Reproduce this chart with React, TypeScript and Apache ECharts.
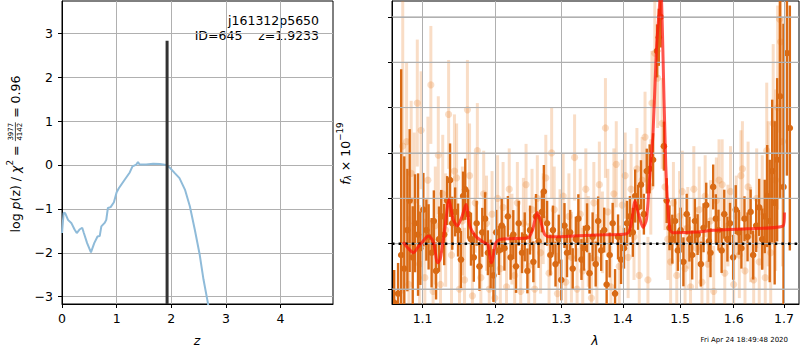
import React, { useEffect, useRef } from 'react';
import * as echarts from 'echarts';

// ---------- Left panel: log p(z) ----------
const pzZ = [0, 0.03, 0.06, 0.11, 0.17, 0.23, 0.27, 0.32, 0.37, 0.40, 0.46, 0.53, 0.59, 0.65, 0.69, 0.72, 0.78, 0.81, 0.84, 0.89, 0.95, 1.0, 1.04, 1.15, 1.24, 1.29, 1.36, 1.39, 1.42, 1.54, 1.67, 1.79, 1.91, 1.98, 2.06, 2.15, 2.25, 2.34, 2.43, 2.52, 2.59, 2.67, 2.75, 2.85];
const pzLogP = [-1.55, -1.09, -1.1, -1.25, -1.32, -1.47, -1.55, -1.47, -1.43, -1.55, -1.78, -1.99, -1.78, -1.63, -1.62, -1.40, -1.32, -1.25, -0.98, -0.96, -0.85, -0.62, -0.53, -0.33, -0.17, -0.03, 0.01, 0.07, 0.01, 0.01, 0.03, 0.02, 0.0, -0.07, -0.18, -0.30, -0.56, -0.94, -1.47, -2.04, -2.61, -3.14, -3.8, -4.6];
const zBest = 1.9233;
const zBarTop = 2.83;
const zTicks = [0, 1, 2, 3, 4];
const logpTicks = [-3, -2, -1, 0, 1, 2, 3];
const objName = 'j161312p5650';
const objInfo = 'ID=645    z=1.9233';
const dateText = 'Fri Apr 24 18:49:48 2020';

// ---------- Right panel: spectrum ----------
const lamTicks = [1.1, 1.2, 1.3, 1.4, 1.5, 1.6, 1.7];
const fluxTicks = [-2, 0, 2, 4, 6, 8, 10];

const modelLam = [1.0744, 1.081, 1.088, 1.094, 1.099, 1.104, 1.108, 1.1147, 1.120, 1.1236, 1.1303, 1.1356, 1.1413, 1.147, 1.1537, 1.159, 1.1643, 1.1723, 1.1834, 1.190, 1.1946, 1.1968, 1.2014, 1.208, 1.2222, 1.2491, 1.256, 1.2627, 1.2673, 1.2742, 1.282, 1.298, 1.357, 1.4068, 1.4136, 1.4209, 1.426, 1.4346, 1.4405, 1.4462, 1.452, 1.4578, 1.4625, 1.4655, 1.4685, 1.4744, 1.4815, 1.4874, 1.530, 1.561, 1.625, 1.6985, 1.701];
const modelFlux = [0.07, -0.2, -0.40, -0.15, 0.04, 0.25, 0.34, 0.04, -0.84, -0.69, 0.78, 1.95, 1.07, 0.78, 1.22, 1.73, 0.78, 0.34, 0.07, -0.03, -0.84, -0.69, 0.04, 0.19, 0.22, 0.26, 0.63, 1.37, 1.07, 0.41, 0.30, 0.31, 0.38, 0.44, 0.78, 1.88, 1.37, 0.71, 1.07, 2.98, 4.9, 8.57, 10.2, 11.3, 9.3, 3.42, 0.63, 0.48, 0.51, 0.59, 0.66, 0.79, 1.37];

const darkLam = [1.063, 1.068, 1.072, 1.076, 1.080, 1.083, 1.087, 1.090, 1.094, 1.097, 1.101, 1.105, 1.108, 1.112, 1.115, 1.118, 1.122, 1.125, 1.129, 1.133, 1.137, 1.140, 1.144, 1.148, 1.152, 1.155, 1.158, 1.162, 1.166, 1.170, 1.174, 1.178, 1.182, 1.186, 1.190, 1.194, 1.198, 1.202, 1.206, 1.210, 1.214, 1.219, 1.223, 1.227, 1.231, 1.235, 1.240, 1.244, 1.248, 1.252, 1.257, 1.261, 1.265, 1.270, 1.273, 1.278, 1.283, 1.287, 1.291, 1.296, 1.300, 1.305, 1.309, 1.314, 1.318, 1.323, 1.327, 1.332, 1.336, 1.341, 1.345, 1.350, 1.355, 1.359, 1.364, 1.369, 1.373, 1.378, 1.383, 1.387, 1.392, 1.397, 1.402, 1.407, 1.412, 1.417, 1.421, 1.426, 1.431, 1.436, 1.441, 1.446, 1.452, 1.459, 1.462, 1.465, 1.471, 1.476, 1.481, 1.486, 1.491, 1.496, 1.501, 1.506, 1.512, 1.517, 1.522, 1.527, 1.532, 1.538, 1.543, 1.548, 1.553, 1.556, 1.561, 1.566, 1.571, 1.577, 1.582, 1.588, 1.593, 1.599, 1.604, 1.610, 1.615, 1.621, 1.627, 1.633, 1.638, 1.644, 1.650, 1.656, 1.661, 1.666, 1.671, 1.676, 1.681, 1.686, 1.692, 1.699, 1.706, 1.712];
const darkFlux = [-2.6, -2.2, -0.5, -1.1, 0.6, 1.9, -0.6, 0.9, 0.4, -0.2, 1.5, 0.6, 0.3, -0.4, 1.0, -1.2, 0.2, 1.2, 0.4, 1.9, 2.8, 0.9, 1.4, 0.6, -0.7, 2.1, 2.4, 1.3, 0.2, -0.6, 0.9, -1.0, 0.5, 1.1, -0.4, -0.9, -1.4, 0.5, -0.3, 0.8, -0.2, 1.2, -0.6, 0.4, -1.0, 0.9, -0.4, 0.3, -1.2, 0.6, -0.8, 1.2, 0.1, 1.4, 2.3, 0.9, -0.5, 0.6, -0.9, 0.2, -1.6, 0.8, -0.4, 0.5, -1.1, 0.2, 1.1, -0.7, -0.2, 0.7, -1.3, 0.3, -0.9, 1.0, -0.3, 0.6, -1.8, -0.5, 0.9, -2.2, 0.3, -0.7, -0.2, 0.9, 1.2, 0.5, 2.1, 1.6, 2.6, 1.3, 3.2, 3.3, 3.7, 8.5, 9.1, 10.0, 4.3, 1.9, 0.7, 0.2, 1.0, -0.3, 0.6, -0.8, 1.3, 0.2, -0.5, 1.0, 0.4, -0.9, 0.7, 1.7, 0.1, -0.4, 2.5, 1.1, 0.6, -0.3, 1.3, 0.2, 0.9, -0.6, 1.5, 0.5, -0.2, 1.1, 0.3, 1.4, -0.5, 0.8, 1.6, 0.2, 1.2, 2.1, 1.0, 3.2, 1.8, 3.7, 6.5, 2.5, 8.4, 5.1];
const darkErr = [1.6, 1.5, 9.1, 5.5, 3.0, 3.5, 2.5, 2.4, 3.0, 1.8, 1.8, 1.5, 1.6, 1.7, 1.5, 1.4, 1.6, 1.3, 1.5, 1.2, 1.8, 1.3, 1.2, 1.3, 1.4, 1.2, 1.5, 1.2, 1.3, 1.2, 1.1, 1.2, 1.2, 1.3, 1.1, 1.2, 1.3, 1.1, 1.2, 1.3, 1.1, 1.0, 1.1, 1.2, 1.3, 1.1, 1.0, 1.2, 1.1, 1.2, 1.0, 1.1, 1.3, 1.0, 1.3, 1.1, 1.0, 1.2, 1.1, 1.2, 1.0, 1.1, 1.2, 1.1, 1.0, 1.1, 1.2, 1.0, 1.1, 1.2, 1.0, 1.2, 1.1, 1.2, 1.0, 1.1, 1.2, 1.1, 1.0, 1.2, 1.1, 1.2, 1.0, 1.1, 1.0, 1.2, 1.3, 1.1, 1.2, 1.0, 1.1, 1.2, 1.3, 1.3, 1.4, 1.5, 1.2, 1.1, 1.1, 1.2, 1.1, 1.0, 1.1, 1.2, 1.0, 1.1, 1.2, 1.1, 1.0, 1.1, 1.2, 1.1, 1.0, 1.2, 1.1, 1.2, 1.0, 1.1, 1.2, 1.1, 1.0, 1.1, 1.2, 1.1, 1.0, 1.1, 1.2, 1.1, 1.2, 1.3, 1.4, 1.5, 1.8, 2.5, 3.0, 3.5, 4.0, 4.0, 5.0, 8.0, 6.0, 6.0];

const lightLam = [1.074, 1.079, 1.082, 1.085, 1.089, 1.093, 1.096, 1.098, 1.103, 1.107, 1.111, 1.114, 1.117, 1.121, 1.124, 1.127, 1.131, 1.135, 1.139, 1.143, 1.146, 1.150, 1.154, 1.157, 1.161, 1.164, 1.168, 1.172, 1.175, 1.180, 1.184, 1.188, 1.192, 1.196, 1.200, 1.204, 1.208, 1.212, 1.217, 1.221, 1.225, 1.229, 1.233, 1.238, 1.242, 1.246, 1.250, 1.255, 1.259, 1.263, 1.268, 1.272, 1.276, 1.281, 1.285, 1.289, 1.294, 1.298, 1.303, 1.307, 1.312, 1.316, 1.321, 1.325, 1.330, 1.334, 1.339, 1.343, 1.348, 1.352, 1.357, 1.361, 1.366, 1.371, 1.375, 1.380, 1.385, 1.389, 1.394, 1.399, 1.404, 1.409, 1.414, 1.419, 1.424, 1.428, 1.433, 1.438, 1.443, 1.448, 1.450, 1.455, 1.460, 1.468, 1.473, 1.478, 1.483, 1.488, 1.494, 1.499, 1.504, 1.509, 1.514, 1.519, 1.525, 1.530, 1.535, 1.540, 1.546, 1.551, 1.556, 1.562, 1.567, 1.572, 1.578, 1.583, 1.589, 1.594, 1.600, 1.605, 1.611, 1.614, 1.617, 1.622, 1.628, 1.633, 1.639, 1.645, 1.650, 1.656, 1.662, 1.665, 1.668, 1.673, 1.678, 1.683, 1.687, 1.691, 1.693, 1.697];
const lightFlux = [4.3, 4.5, -1.8, 3.1, 1.9, 6.2, -0.9, 5.0, -1.5, 2.8, 7.0, -2.1, 0.8, 3.9, -1.8, 2.2, 0.6, 5.7, -0.5, 3.2, 2.9, -2.0, 1.0, -1.6, 5.9, 3.0, -2.3, 1.8, 4.1, -1.5, 2.2, 0.9, -2.0, 1.3, -2.4, 2.0, -1.1, 1.6, -1.9, 2.4, 0.2, -1.4, 1.8, -2.1, 0.9, 2.6, -1.0, 1.5, -2.0, 2.0, -0.4, 1.1, 2.9, -1.3, 4.0, 1.5, -2.2, 0.4, 2.1, -1.7, 1.2, -0.6, 3.8, -2.0, 1.3, -1.2, 2.4, 0.1, -2.4, 1.8, -0.7, 2.6, 0.5, 5.1, 1.4, -1.9, 2.2, 3.5, -1.0, 1.7, 3.0, -0.6, 2.4, 0.3, 3.3, -1.4, 2.8, 4.7, -1.6, 2.5, 6.2, 8.4, 7.3, 5.3, 2.5, 0.2, -0.8, 1.8, -1.4, 1.2, 2.3, -1.1, 0.7, -1.9, 2.4, -0.2, 1.5, -1.7, 2.1, -0.9, 1.0, -2.1, 1.9, 2.8, 2.6, -1.3, 0.8, 2.3, -1.8, 1.2, -0.5, 3.0, 3.3, -1.2, 2.5, 0.4, -1.6, 2.0, -0.8, 1.4, -1.5, 4.1, 2.2, -0.4, 5.3, 2.8, 6.0, 9.9, 8.9, 4.5];
const lightErr = [6.5, 3.5, 3.0, 3.2, 3.0, 2.8, 2.6, 2.6, 2.6, 2.8, 2.6, 2.4, 2.6, 2.6, 2.4, 2.6, 2.5, 2.4, 2.4, 2.5, 2.4, 2.3, 2.4, 2.3, 2.2, 2.3, 2.2, 2.2, 2.1, 2.0, 1.9, 2.1, 1.8, 1.9, 2.0, 1.9, 1.8, 2.0, 1.9, 1.8, 2.0, 1.9, 1.8, 1.9, 2.0, 1.8, 1.9, 1.8, 2.0, 1.9, 1.8, 2.0, 1.9, 1.8, 2.0, 1.9, 1.8, 2.0, 1.9, 1.8, 1.9, 2.0, 1.9, 1.8, 2.0, 1.9, 1.8, 2.0, 1.9, 1.8, 2.0, 1.9, 1.8, 2.2, 1.9, 1.8, 2.0, 1.9, 1.8, 2.0, 1.9, 1.8, 2.0, 1.9, 1.8, 2.0, 1.9, 2.0, 1.9, 2.1, 2.3, 2.4, 2.2, 2.0, 1.9, 1.8, 1.9, 1.8, 1.9, 2.0, 1.8, 1.9, 1.8, 2.0, 1.9, 1.8, 1.9, 2.0, 1.8, 1.9, 1.8, 2.0, 1.9, 1.8, 2.0, 1.9, 1.8, 2.0, 1.9, 1.8, 1.9, 2.0, 2.1, 1.9, 2.0, 2.1, 2.0, 2.2, 2.3, 2.5, 2.6, 3.0, 3.2, 3.3, 3.5, 4.0, 4.5, 5.0, 5.0, 5.5];

const FONT = 'DejaVu Sans';
const LAM_MIN = 1.0602;
const LAM_MAX = 1.731;
const Z_MIN = 0;
const Z_MAX = 4.96;
const P_MIN = -3.167;
const P_MAX = 3.736;
const F_MIN = -2.66;
const F_MAX = 10.7;
const GRID_GRAY = '#b0b0b0';

const minus = (v: number) => String(v).replace('-', '\u2212');

function measure(t: string, size: number, italic = false) {
  const c = document.createElement('canvas').getContext('2d')!;
  c.font = `${italic ? 'italic ' : ''}${size}px "${FONT}"`;
  return c.measureText(t).width;
}

type Piece = { text: string; size: number; italic?: boolean; dy?: number } | { frac: [string, string]; size: number };

function buildRotatedLabel(pieces: Piece[], cx: number, cy: number) {
  const widths = pieces.map((p: any) => {
    if (p.frac) return Math.max(measure(p.frac[0], p.size), measure(p.frac[1], p.size)) + 2;
    return measure(p.text, p.size, p.italic);
  });
  const total = widths.reduce((a, b) => a + b, 0);
  let x = -total / 2;
  const children: any[] = [];
  pieces.forEach((p: any, i) => {
    const w = widths[i];
    if (p.frac) {
      children.push({ type: 'text', x: x + w / 2, y: -3.8, style: { text: p.frac[0], fontSize: p.size, fontFamily: FONT, fill: '#000', align: 'center', verticalAlign: 'middle' } });
      children.push({ type: 'text', x: x + w / 2, y: 4.6, style: { text: p.frac[1], fontSize: p.size, fontFamily: FONT, fill: '#000', align: 'center', verticalAlign: 'middle' } });
      children.push({ type: 'line', shape: { x1: x + 0.5, y1: 0.4, x2: x + w - 0.5, y2: 0.4 }, style: { stroke: '#000', lineWidth: 0.7 } });
    } else {
      children.push({ type: 'text', x, y: p.dy || 0, style: { text: p.text, fontSize: p.size, fontStyle: p.italic ? 'italic' : 'normal', fontFamily: FONT, fill: '#000', align: 'left', verticalAlign: 'middle' } });
    }
    x += w;
  });
  return { type: 'group', x: cx, y: cy, rotation: Math.PI / 2, children };
}

function errorBarRenderer(color: string, lw: number, r: number) {
  return (params: any, api: any) => {
    const x = api.value(0);
    const y = api.value(1);
    const e = api.value(2);
    const top = api.coord([x, y + e]);
    const bot = api.coord([x, y - e]);
    const c = api.coord([x, y]);
    return {
      type: 'group',
      children: [
        { type: 'line', shape: { x1: top[0], y1: top[1], x2: bot[0], y2: bot[1] }, style: { stroke: color, lineWidth: lw } },
        { type: 'circle', shape: { cx: c[0], cy: c[1], r }, style: { fill: color } },
      ],
    };
  };
}

export default function App() {
  const ref = useRef<HTMLDivElement>(null);
  useEffect(() => {
    if (!ref.current) return;
    const chart = echarts.init(ref.current, undefined, { renderer: 'svg' });

    const axisCommon = {
      axisLine: { show: true, onZero: false, lineStyle: { color: '#000', width: 1 } },
      axisTick: { show: true, inside: false, length: 4, lineStyle: { color: '#000', width: 1 } },
      splitLine: { show: true, lineStyle: { color: GRID_GRAY, width: 1 } },
    };

    const leftLabel = buildRotatedLabel(
      [
        { text: 'log ', size: 12.5 },
        { text: 'p', size: 12.5, italic: true },
        { text: '(z) / ', size: 12.5 },
        { text: '\u03c7', size: 12.5, italic: true },
        { text: '2', size: 8.75, dy: -5 },
        { text: ' = ', size: 12.5 },
        { frac: ['3977', '4142'], size: 7 },
        { text: ' = 0.96', size: 12.5 },
      ],
      15,
      154
    );
    const rightLabel = buildRotatedLabel(
      [
        { text: 'f', size: 12.5, italic: true },
        { text: '\u03bb', size: 8.75, italic: true, dy: 3 },
        { text: ' \u00d7 10', size: 12.5 },
        { text: '\u221219', size: 8.75, dy: -5 },
      ],
      345,
      153.5
    );

    const xL0 = Math.log(LAM_MIN);
    const xL1 = Math.log(LAM_MAX);
    const hGridSeries = fluxTicks.map((v) => ({
      type: 'line', xAxisIndex: 1, yAxisIndex: 1, showSymbol: false, silent: true, z: 5,
      data: [[xL0, v], [xL1, v]],
      lineStyle: { color: GRID_GRAY, width: 1 },
    }));

    chart.setOption({
      animation: false,
      textStyle: { fontFamily: FONT },
      grid: [
        { left: 62, top: 1, width: 271, height: 303, show: true, borderColor: '#000', borderWidth: 1, backgroundColor: 'transparent' },
        { left: 392, top: 1, width: 407, height: 303, show: true, borderColor: '#000', borderWidth: 1, backgroundColor: 'transparent' },
      ],
      xAxis: [
        {
          type: 'value', gridIndex: 0, min: Z_MIN, max: Z_MAX, ...axisCommon,
          axisTick: { ...axisCommon.axisTick, customValues: zTicks },
          axisLabel: { customValues: zTicks, color: '#000', fontSize: 12.5, fontFamily: FONT, margin: 8, formatter: (v: number) => minus(v) },
        },
        {
          type: 'value', gridIndex: 1, min: xL0, max: xL1, z: 3, ...axisCommon,
          axisTick: { ...axisCommon.axisTick, customValues: lamTicks.map(Math.log) },
          axisLabel: { customValues: lamTicks.map(Math.log), color: '#000', fontSize: 12.5, fontFamily: FONT, margin: 8, formatter: (v: number) => Math.exp(v).toFixed(1) },
        },
      ],
      yAxis: [
        {
          type: 'value', gridIndex: 0, min: P_MIN, max: P_MAX, ...axisCommon,
          axisTick: { ...axisCommon.axisTick, customValues: logpTicks },
          axisLabel: { customValues: logpTicks, color: '#000', fontSize: 12.5, fontFamily: FONT, margin: 9, formatter: (v: number) => minus(Math.round(v)) },
        },
        {
          type: 'value', gridIndex: 1, min: F_MIN, max: F_MAX, z: 3, ...axisCommon,
          axisTick: { ...axisCommon.axisTick, customValues: fluxTicks },
          axisLabel: { show: false, customValues: fluxTicks },
        },
      ],
      series: [
        {
          type: 'line', xAxisIndex: 0, yAxisIndex: 0, showSymbol: false, clip: true,
          data: pzZ.map((z, i) => [z, pzLogP[i]]),
          lineStyle: { color: '#8fbbd9', width: 2 },
          z: 3,
        },
        {
          type: 'line', xAxisIndex: 0, yAxisIndex: 0, showSymbol: false, clip: true,
          data: [[zBest, P_MIN], [zBest, zBarTop]],
          lineStyle: { color: '#333333', width: 3 },
          z: 4,
        },
        {
          type: 'custom', xAxisIndex: 1, yAxisIndex: 1, clip: true, z: 2,
          renderItem: errorBarRenderer('rgba(232,128,45,0.27)', 3, 3.6),
          data: lightLam.map((l, i) => [Math.log(l), lightFlux[i], lightErr[i]]),
        },
        {
          type: 'custom', xAxisIndex: 1, yAxisIndex: 1, clip: true, z: 2,
          renderItem: errorBarRenderer('#d96a14', 2.4, 3.3),
          data: darkLam.map((l, i) => [Math.log(l), darkFlux[i], darkErr[i] * 0.9]),
        },
        ...hGridSeries,
        {
          type: 'line', xAxisIndex: 1, yAxisIndex: 1, showSymbol: false, clip: true, z: 6,
          data: [[xL0, 0], [xL1, 0]],
          lineStyle: { color: '#000', width: 2.5, type: [2.5, 4.1] },
        },
        {
          type: 'line', xAxisIndex: 1, yAxisIndex: 1, showSymbol: false, clip: true, z: 7, smooth: 0.25,
          data: modelLam.map((l, i) => [Math.log(l), modelFlux[i]]),
          lineStyle: { color: 'rgba(255,20,10,0.72)', width: 3 },
        },
      ],
      graphic: [
        leftLabel,
        rightLabel,
        { type: 'text', x: 319, y: 20, style: { text: objName, fontSize: 12.5, fontFamily: FONT, fill: '#000', align: 'right', verticalAlign: 'middle' } },
        { type: 'text', x: 319, y: 35, style: { text: objInfo, fontSize: 12.5, fontFamily: FONT, fill: '#000', align: 'right', verticalAlign: 'middle' } },
        { type: 'text', x: 197, y: 340, style: { text: 'z', fontSize: 12.5, fontStyle: 'italic', fontFamily: FONT, fill: '#000', align: 'center', verticalAlign: 'middle' } },
        { type: 'text', x: 595, y: 340, style: { text: '\u03bb', fontSize: 12.5, fontStyle: 'italic', fontFamily: FONT, fill: '#000', align: 'center', verticalAlign: 'middle' } },
        { type: 'text', x: 788, y: 340, style: { text: dateText, fontSize: 7, fontFamily: FONT, fill: '#000', align: 'right', verticalAlign: 'middle' } },
      ],
    });
    return () => chart.dispose();
  }, []);
  return <div ref={ref} style={{ position: 'absolute', left: 0, top: 0, width: 800, height: 350, background: '#fff' }} />;
}
